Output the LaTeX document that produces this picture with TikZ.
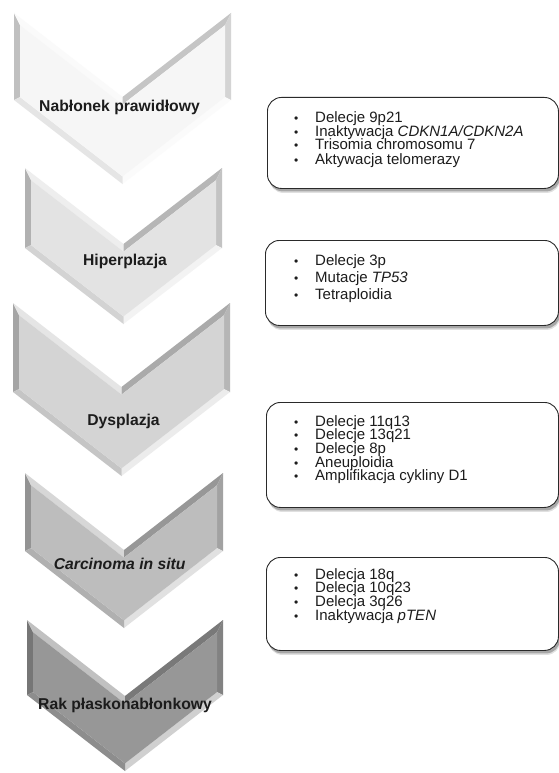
\documentclass[tikz,border=0pt]{standalone}
\usepackage{fontspec}
\setmainfont{Liberation Sans}
\usetikzlibrary{calc,shadows}
\definecolor{txt}{HTML}{1C1C1C}
\definecolor{boxline}{HTML}{2A2A2A}
\definecolor{face1}{HTML}{F6F6F6}
\definecolor{face2}{HTML}{E3E3E3}
\definecolor{face3}{HTML}{D4D4D4}
\definecolor{face4}{HTML}{BDBDBD}
\definecolor{face5}{HTML}{979797}
\newcommand\bev{6}
\newcommand\bul{\makebox[21pt][l]{\scalebox{0.8}{\textbullet}}}
% #1 name, #2 x0, #3 x1, #4 top y, #5 depth, #6 side bottom y, #7 face colour
\newcommand\mychev[7]{%
  \pgfmathsetmacro\cw{(#3-#2)/2}%
  \pgfmathsetmacro\cxc{(#2+#3)/2}%
  \pgfmathsetmacro\cr{#5/\cw}%
  \pgfmathsetmacro\ca{\bev*\cr}%
  \pgfmathsetmacro\cb{\bev*sqrt(1+\cr*\cr)}%
  \coordinate (#1-p1) at (#2,#4);
  \coordinate (#1-p2) at (\cxc,#4+#5);
  \coordinate (#1-p3) at (#3,#4);
  \coordinate (#1-p4) at (#3,#6);
  \coordinate (#1-p5) at (\cxc,#6+#5);
  \coordinate (#1-p6) at (#2,#6);
  \coordinate (#1-q1) at (#2+\bev,#4+\ca+\cb);
  \coordinate (#1-q2) at (\cxc,#4+#5+\cb);
  \coordinate (#1-q3) at (#3-\bev,#4+\ca+\cb);
  \coordinate (#1-q4) at (#3-\bev,#6+\ca-\cb);
  \coordinate (#1-q5) at (\cxc,#6+#5-\cb);
  \coordinate (#1-q6) at (#2+\bev,#6+\ca-\cb);
  \fill[#7!78!black] (#1-p6) -- (#1-p1) -- (#1-q1) -- (#1-q6) -- cycle;
  \fill[#7!60!white] (#1-p1) -- (#1-p2) -- (#1-q2) -- (#1-q1) -- cycle;
  \fill[#7!80!black] (#1-p2) -- (#1-p3) -- (#1-q3) -- (#1-q2) -- cycle;
  \fill[#7!86!black] (#1-p3) -- (#1-p4) -- (#1-q4) -- (#1-q3) -- cycle;
  \fill[#7!45!white] (#1-p4) -- (#1-p5) -- (#1-q5) -- (#1-q4) -- cycle;
  \fill[#7!93!black] (#1-p5) -- (#1-p6) -- (#1-q6) -- (#1-q5) -- cycle;
  \fill[#7] (#1-q1) -- (#1-q2) -- (#1-q3) -- (#1-q4) -- (#1-q5) -- (#1-q6) -- cycle;
}
\tikzset{
  lab/.style={font=\fontsize{15.7}{18}\selectfont\bfseries, text=txt, anchor=base, inner sep=0pt},
  infobox/.style={draw=boxline, line width=0.9pt, rounded corners=14pt, fill=white,
    anchor=north west, inner sep=0pt,
    drop shadow={shadow xshift=2pt, shadow yshift=-4.5pt, opacity=0.12, fill=black},
    drop shadow={shadow xshift=1.5pt, shadow yshift=-3pt, opacity=0.25, fill=black}},
  items/.style={anchor=base west, inner sep=0pt, text=txt}
}
\begin{document}
\begin{tikzpicture}[x=1pt,y=-1pt]
\useasboundingbox[fill=white] (0,0) rectangle (559,773);
% chevrons
\mychev{c1}{14}{231}{13}{84}{100}{face1}
\mychev{c2}{25}{222}{168}{76}{248}{face2}
\mychev{c3}{13}{230}{303}{84}{392}{face3}
\mychev{c4}{25}{223}{473}{77}{551}{face4}
\mychev{c5}{27}{223}{620}{76}{695}{face5}
% labels
\node[lab] (l1) at (119.5,112) {Nabłonek prawidłowy};
\node[lab] (l2) at (125,265) {Hiperplazja};
\node[lab] (l3) at (123.5,425.5) {Dysplazja};
\node[lab] (l4) at (119.7,569) {\itshape Carcinoma in situ};
\node[lab] (l5) at (125,709) {Rak płaskonabłonkowy};
% boxes
\node[infobox, minimum width=291pt, minimum height=91pt] (b1) at (267,97) {};
\node[infobox, minimum width=293pt, minimum height=85pt] (b2) at (265,240) {};
\node[infobox, minimum width=292pt, minimum height=105pt] (b3) at (266,402) {};
\node[infobox, minimum width=292pt, minimum height=93pt] (b4) at (266,557) {};
% box texts
\node[items] (t1) at (294,122) {\parbox[t]{250pt}{\fontsize{15}{14}\selectfont\lineskiplimit=-30pt
  \bul Delecje 9p21\\
  \bul Inaktywacja \textit{CDKN1A/CDKN2A}\\
  \bul Trisomia chromosomu 7\\
  \bul Aktywacja telomerazy}};
\node[items] (t2) at (294,265) {\parbox[t]{250pt}{\fontsize{15}{17}\selectfont\lineskiplimit=-30pt
  \bul Delecje 3p\\
  \bul Mutacje \textit{TP53}\\
  \bul Tetraploidia}};
\node[items] (t3) at (294,426) {\parbox[t]{250pt}{\fontsize{15}{13.7}\selectfont\lineskiplimit=-30pt
  \bul Delecje 11q13\\
  \bul Delecje 13q21\\
  \bul Delecje 8p\\
  \bul Aneuploidia\\
  \bul Amplifikacja cykliny D1}};
\node[items] (t4) at (294,579) {\parbox[t]{250pt}{\fontsize{15}{13.8}\selectfont\lineskiplimit=-30pt
  \bul Delecja 18q\\
  \bul Delecja 10q23\\
  \bul Delecja 3q26\\
  \bul Inaktywacja \textit{pTEN}}};
\end{tikzpicture}
\end{document}
